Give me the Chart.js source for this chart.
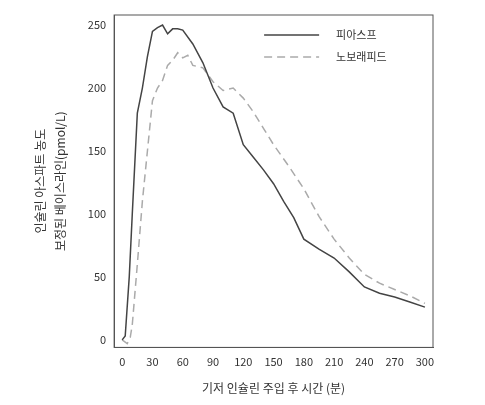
<!DOCTYPE html>
<html><head><meta charset="utf-8">
<script src="https://cdn.jsdelivr.net/npm/chart.js@4"></script>
<style>body{margin:0;background:#fff}#w{width:485px;height:405px}</style>
</head><body><div id="w"><canvas id="c"></canvas></div>
<script>
const seriesNames=['피아스프','노보래피드'];
const fiaspX=[0,3,7,10,15,20,25,30,35,40,45,50,55,60,70,80,90,100,110,120,130,140,150,160,170,180,195,210,225,240,255,270,285,300];
const fiaspY=[0,3,50,100,180,200,225,245,248,250,243,247,247,246,235,220,200,185,180,155,145,135,124,110,97,80,72,65,54,42,37,34,30,26];
const novoX=[0,5,8,10,15,20,25,30,35,40,45,50,55,60,65,70,80,90,100,110,120,130,140,150,165,180,195,210,225,240,255,270,285,300];
const novoY=[0,-3,2,12,60,110,150,190,200,206,218,222,228,224,226,218,216,205,198,200,192,181,168,155,138,120,98,80,65,52,45,40,35,29];
const xTicks=[0,30,60,90,120,150,180,210,240,270,300];
const yTicks=[0,50,100,150,200,250];
const font={family:'"Noto Sans CJK KR","Noto Sans",sans-serif',size:11};
const frame={id:'frame',afterDraw(ch){const a=ch.chartArea,c=ch.ctx;c.save();c.strokeStyle='#555';c.lineWidth=1;c.strokeRect(a.left,a.top,a.right-a.left,a.bottom-a.top);
const items=[['#444',[]],['#aaa',[8,5]]];c.font='11px '+font.family;c.fillStyle='#333';
items.forEach((it,i)=>{const y=a.top+20+i*22;c.beginPath();c.setLineDash(it[1]);c.strokeStyle=it[0];c.lineWidth=1.5;c.moveTo(a.left+150,y);c.lineTo(a.left+205,y);c.stroke();c.setLineDash([]);c.textBaseline='middle';c.fillText(seriesNames[i],a.left+222,y);});
c.restore();}};
new Chart(document.getElementById('c'),{type:'line',
data:{datasets:[
{label:seriesNames[0],data:fiaspX.map((x,i)=>({x,y:fiaspY[i]})),borderColor:'#444',borderWidth:1.5,pointRadius:0,tension:0},
{label:seriesNames[1],data:novoX.map((x,i)=>({x,y:novoY[i]})),borderColor:'#aaa',borderWidth:1.5,borderDash:[8,5],pointRadius:0,tension:0}]},
options:{responsive:true,maintainAspectRatio:false,animation:false,
layout:{padding:{left:26,right:52,top:15,bottom:5}},
plugins:{legend:{display:false},tooltip:{enabled:false}},
scales:{
x:{type:'linear',min:-8,max:308,afterBuildTicks(s){s.ticks=xTicks.map(v=>({value:v}));},
grid:{display:false,drawTicks:true,tickLength:5},border:{color:'#555'},
ticks:{color:'#333',font,maxRotation:0},
title:{display:true,text:'기저 인슐린 주입 후 시간 (분)',color:'#333',font:{...font,size:12},padding:{top:10}}},
y:{min:-6,max:258,afterBuildTicks(s){s.ticks=yTicks.map(v=>({value:v}));},
grid:{display:false,tickLength:5},border:{color:'#555'},
ticks:{color:'#333',font},
title:{display:true,text:['인슐린 아스파트 농도','보정된 베이스라인(pmol/L)'],color:'#333',font:{...font,size:12,lineHeight:1.7},padding:{bottom:14}}}}},
plugins:[frame]});
</script></body></html>
